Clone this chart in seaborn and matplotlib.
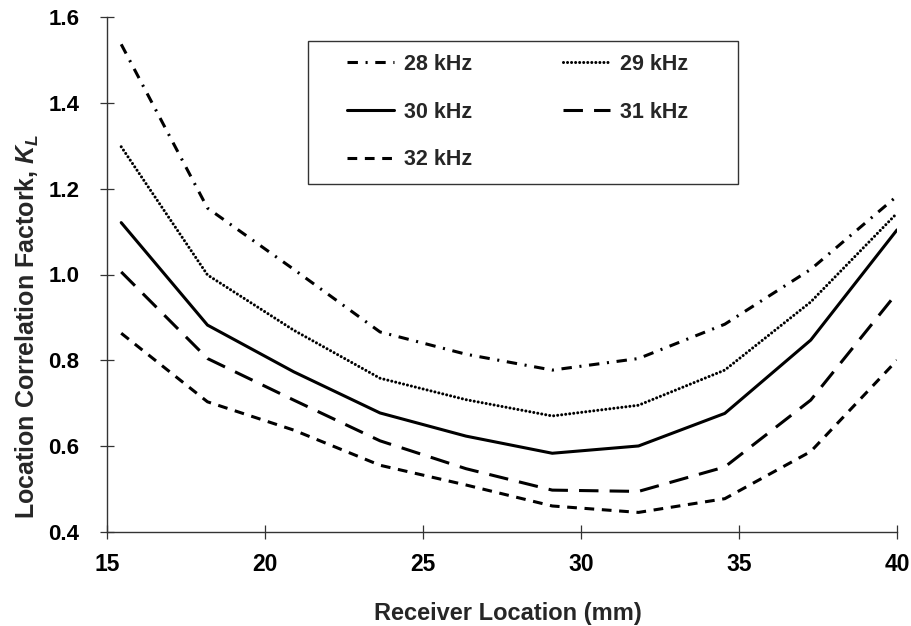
import numpy as np
import pandas as pd
import seaborn as sns
import matplotlib.pyplot as plt
from matplotlib.patches import Rectangle

# Receiver positions (mm) and location correlation factor K_L per excitation frequency
receiver_mm = [15.45, 18.18, 20.91, 23.64, 26.36, 29.09, 31.82, 34.55, 37.27, 40.00]
k_28khz = [1.537, 1.155, 1.012, 0.866, 0.814, 0.777, 0.804, 0.884, 1.012, 1.183]
k_29khz = [1.298, 0.999, 0.870, 0.758, 0.708, 0.670, 0.695, 0.777, 0.936, 1.143]
k_30khz = [1.121, 0.882, 0.773, 0.677, 0.623, 0.583, 0.600, 0.676, 0.847, 1.104]
k_31khz = [1.006, 0.804, 0.707, 0.612, 0.547, 0.497, 0.494, 0.551, 0.707, 0.957]
k_32khz = [0.863, 0.703, 0.637, 0.555, 0.509, 0.460, 0.445, 0.477, 0.587, 0.800]
freq_labels = ["28 kHz", "29 kHz", "30 kHz", "31 kHz", "32 kHz"]
x_ticks = [15, 20, 25, 30, 35, 40]
y_ticks = [0.4, 0.6, 0.8, 1.0, 1.2, 1.4, 1.6]

series = [k_28khz, k_29khz, k_30khz, k_31khz, k_32khz]
df = pd.concat(
    [pd.DataFrame({"x": receiver_mm, "k": vals, "freq": lab})
     for vals, lab in zip(series, freq_labels)],
    ignore_index=True,
)

sns.set_theme(style="ticks")
plt.rcParams["font.family"] = ["Liberation Sans", "DejaVu Sans"]
plt.rcParams["font.weight"] = "bold"
plt.rcParams["mathtext.fontset"] = "custom"
plt.rcParams["mathtext.rm"] = "Liberation Sans:bold"
plt.rcParams["mathtext.it"] = "Liberation Sans:italic"
plt.rcParams["lines.scale_dashes"] = False

# dash patterns in points (on, off, ...)
dash_styles = {
    "28 kHz": (7.5, 5.5, 1.5, 5.5),
    "29 kHz": (0.01, 2.9),
    "30 kHz": "",
    "31 kHz": (14.0, 8.0),
    "32 kHz": (7.0, 5.5),
}
palette = {lab: "black" for lab in freq_labels}

fig_w, fig_h = 911.0, 626.0
fig = plt.figure(figsize=(fig_w / 100, fig_h / 100), dpi=100)
ax = fig.add_axes([107 / fig_w, 1 - 531.7 / fig_h,
                   (897 - 107) / fig_w, (531.7 - 17.3) / fig_h])

sns.lineplot(data=df, x="x", y="k", hue="freq", style="freq",
             hue_order=freq_labels, style_order=freq_labels,
             palette=palette, dashes=dash_styles, linewidth=2.2,
             legend=False, ax=ax)

for line, lab in zip(ax.lines, freq_labels):
    if lab == "29 kHz":
        line.set_dash_capstyle("round")
        line.set_linewidth(2.2)
    else:
        line.set_dash_capstyle("butt")

ax.set_xlim(15, 40)
ax.set_ylim(0.4, 1.6)
ax.set_xticks(x_ticks)
ax.set_yticks(y_ticks)
ax.set_yticklabels([f"{v:.1f}" for v in y_ticks])
ax.set_xticklabels([str(v) for v in x_ticks])

for side in ["top", "right"]:
    ax.spines[side].set_visible(False)
for side in ["left", "bottom"]:
    ax.spines[side].set_color("#333333")
    ax.spines[side].set_linewidth(1.0)

ax.tick_params(axis="both", direction="inout", length=10, width=0.9,
               color="#333333", labelcolor="black")
ax.tick_params(axis="y", pad=15, labelsize=16)
ax.tick_params(axis="x", pad=10, labelsize=16.5)

ax.set_xlabel("Receiver Location (mm)", fontsize=17, fontweight="bold")
ax.set_ylabel("Location Correlation Factork, $K_L$", fontsize=18, fontweight="bold")
ax.xaxis.set_label_coords(0.508, -0.136)
ax.yaxis.set_label_coords(-0.083, 0.40)

# legend laid out row-wise: 28/29, 30/31, 32
order = [0, 2, 4, 1, 3]
handles = [ax.lines[i] for i in order]
labels = [freq_labels[i] for i in order]
leg = fig.legend(handles, labels, loc="upper left",
                 bbox_to_anchor=(347 / fig_w, 1 - 54 / fig_h),
                 ncol=2, frameon=False, borderpad=0, borderaxespad=0,
                 handlelength=2.2, handletextpad=0.45, columnspacing=4.2,
                 labelspacing=1.24, prop={"family": "Liberation Sans",
                                          "weight": "bold", "size": 15.5})

fig.patches.append(Rectangle((308 / fig_w, 1 - 184 / fig_h),
                             (738 - 308) / fig_w, (184 - 41) / fig_h,
                             transform=fig.transFigure, fill=False,
                             edgecolor="#333333", linewidth=1.0))

fig.savefig("out.png", dpi=100, facecolor="white")
